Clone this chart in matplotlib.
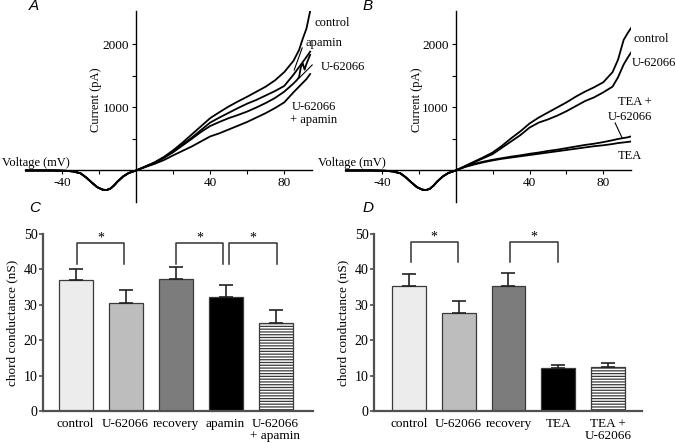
import matplotlib
matplotlib.use('Agg')
import matplotlib.pyplot as plt
import numpy as np

plt.rcParams['font.family'] = ['Liberation Serif', 'DejaVu Serif']
plt.rcParams['axes.unicode_minus'] = False
plt.rcParams['hatch.linewidth'] = 0.9

# ---- I-V traces (voltage mV, current pA) ----
v_neg = [-60, -45, -38, -34, -30, -27, -24, -21, -18, -16, -14, -12, -10, -7, -4, 0]
i_neg = [0, 0, -5, -15, -45, -110, -190, -265, -305, -310, -290, -240, -175, -95, -40, 0]

v_a = [5, 10, 15, 20, 25, 30, 35, 40, 45, 50, 55, 60, 65, 70, 75, 80, 85, 88, 90, 92, 94]
a_control = [65, 130, 215, 320, 440, 570, 700, 830, 925, 1015, 1095, 1170, 1250, 1330, 1430, 1560, 1740, 1910, 2090, 2250, 2530]
a_apamin = [60, 125, 205, 300, 410, 520, 640, 760, 840, 915, 990, 1060, 1120, 1190, 1260, 1340, 1520, 1640, 1720, 1800, 1885]
a_u_apamin = [55, 105, 165, 240, 310, 380, 460, 540, 590, 650, 710, 770, 840, 910, 990, 1080, 1240, 1330, 1390, 1450, 1530]
v_a_u = [5, 10, 15, 20, 25, 30, 35, 40, 45, 50, 55, 60, 65, 70, 75, 80, 85, 87, 88, 89, 90, 91, 92, 94]
a_u62066 = [60, 120, 200, 290, 395, 500, 610, 705, 770, 830, 880, 935, 1000, 1070, 1150, 1250, 1380, 1440, 1480, 1640, 1700, 1600, 1690, 1835]

v_b = [5, 10, 15, 20, 25, 30, 35, 40, 45, 50, 55, 60, 65, 70, 75, 80, 85, 88, 91, 93, 95]
b_control = [70, 140, 210, 285, 390, 510, 620, 745, 840, 920, 1000, 1080, 1170, 1250, 1320, 1400, 1560, 1760, 2070, 2170, 2260]
b_u62066 = [65, 130, 195, 260, 360, 460, 560, 680, 760, 810, 870, 940, 1020, 1100, 1160, 1240, 1330, 1480, 1680, 1780, 1870]
b_tea_u = [60, 105, 140, 170, 195, 220, 240, 265, 285, 310, 330, 355, 380, 405, 425, 450, 480, 500, 515, 525, 540]
b_tea = [55, 95, 130, 160, 185, 205, 225, 245, 265, 285, 305, 325, 345, 365, 385, 400, 420, 435, 445, 452, 460]

# ---- chord conductance bars (nS) ----
c_labels = ['control', 'U-62066', 'recovery', 'apamin', 'U-62066\n+ apamin']
c_means = [37.1, 30.5, 37.4, 32.3, 25.0]
c_sem = [2.9, 3.8, 3.2, 3.2, 3.4]
d_labels = ['control', 'U-62066', 'recovery', 'TEA', 'TEA +\nU-62066']
d_means = [35.3, 27.6, 35.3, 12.2, 12.5]
d_sem = [3.5, 3.6, 3.8, 0.9, 1.1]
bar_colors = ['#ececec', '#bdbdbd', '#7c7c7c', '#000000', '#ffffff']

W, H = 675, 443
fig = plt.figure(figsize=(6.75, 4.43), dpi=100)


def px_axes(x0, y0, x1, y1):
    # pixel box (left, top, right, bottom) -> axes
    return fig.add_axes([x0 / W, 1 - y1 / H, (x1 - x0) / W, (y1 - y0) / H])


def iv_axes(ax):
    ax.set_xlim(-60, 95)
    ax.set_ylim(-500, 2530)
    for s in ['top', 'right']:
        ax.spines[s].set_visible(False)
    ax.spines['left'].set_position(('data', 0))
    ax.spines['bottom'].set_position(('data', 0))
    for s in ['left', 'bottom']:
        ax.spines[s].set_linewidth(1.0)
    ax.set_xticks([-40, -20, 20, 40, 60, 80])
    ax.set_xticklabels(['-40', '', '', '40', '', '80'])
    ax.set_yticks([500, 1000, 1500, 2000])
    ax.set_yticklabels(['', '1000', '', '2000'])
    ax.tick_params(direction='out', length=3, width=0.8, labelsize=9.5, pad=2)
    ax.patch.set_alpha(0)


def trace(ax, v, cur):
    ax.plot(v_neg + v, i_neg + cur, color='black', lw=1.3)


# Panel A
axA = px_axes(25, 11, 312, 202)
iv_axes(axA)
trace(axA, v_a, a_control)
trace(axA, v_a, a_apamin)
trace(axA, v_a_u, a_u62066)
trace(axA, v_a, a_u_apamin)
axA.text(96.5, 2340, 'control', fontsize=9, va='center', clip_on=False)
axA.text(91.5, 2025, 'apamin', fontsize=9, va='center', clip_on=False)
axA.text(100, 1645, 'U-62066', fontsize=9, va='center', clip_on=False)
axA.text(84, 1010, 'U-62066', fontsize=9, va='center', clip_on=False)
axA.text(83, 800, '+ apamin', fontsize=9, va='center', clip_on=False)
axA.plot([89.7, 85.4], [1944, 1595], color='black', lw=0.8, clip_on=False)
axA.plot([95.1, 88.1], [1674, 1468], color='black', lw=0.8, clip_on=False)

# Panel B
axB = px_axes(345, 11, 631, 202)
iv_axes(axB)
for cur in [b_control, b_u62066, b_tea_u, b_tea]:
    trace(axB, v_b, cur)
axB.text(96.2, 2090, 'control', fontsize=9, va='center', clip_on=False)
axB.text(95.4, 1705, 'U-62066', fontsize=9, va='center', clip_on=False)
axB.text(97, 1087, 'TEA +', fontsize=9, va='center', ha='center', clip_on=False)
axB.text(94.6, 849, 'U-62066', fontsize=9, va='center', ha='center', clip_on=False)
axB.text(94.6, 230, 'TEA', fontsize=9, va='center', ha='center', clip_on=False)
axB.plot([86.4, 90.2], [754, 516], color='black', lw=0.8, clip_on=False)

fig.text(2 / W, 1 - 163 / H, 'Voltage (mV)', fontsize=9, va='center', ha='left')
fig.text(318 / W, 1 - 163 / H, 'Voltage (mV)', fontsize=9, va='center', ha='left')
fig.text(96 / W, 1 - 100 / H, 'Current (pA)', fontsize=9, va='center', ha='center', rotation=90)
fig.text(417 / W, 1 - 100 / H, 'Current (pA)', fontsize=9, va='center', ha='center', rotation=90)


def bar_axes(ax, labels, means, sem, brackets, xlim):
    x = np.arange(len(means))
    bars = ax.bar(x, means, width=0.68, color=bar_colors, edgecolor='#3a3a3a', linewidth=0.9, zorder=2)
    bars[-1].set_hatch('------')
    ax.errorbar(x, means, yerr=[np.zeros(len(sem)), sem], fmt='none', ecolor='#222222',
                elinewidth=1.2, capsize=5, capthick=1.2, zorder=3)
    ax.set_xlim(*xlim)
    ax.set_ylim(0, 50)
    for s in ['top', 'right']:
        ax.spines[s].set_visible(False)
    for s in ['left', 'bottom']:
        ax.spines[s].set_linewidth(1.6)
        ax.spines[s].set_color('#505050')
    ax.set_yticks([0, 10, 20, 30, 40, 50])
    ax.tick_params(axis='y', direction='out', length=3, width=1.2, color='#505050', labelsize=10, pad=1)
    ax.set_xticks(x)
    ax.set_xticklabels(labels, fontsize=9.5, linespacing=1.0)
    ax.tick_params(axis='x', length=0, pad=5)
    ax.set_ylabel('chord conductance (nS)', fontsize=9.5, labelpad=4)
    for x0, x1, top, low in brackets:
        ax.plot([x0, x0, x1, x1], [low, top, top, low], color='#333333', lw=1.1, clip_on=False)
        ax.text((x0 + x1) / 2, top - 0.6, '*', ha='center', va='bottom', fontsize=10, clip_on=False)


axC = px_axes(43, 234, 313, 411)
bar_axes(axC, c_labels, c_means, c_sem,
         [(0.03, 0.97, 47.5, 41.5), (2.01, 2.95, 47.5, 41.5), (3.07, 4.03, 47.5, 41.5)],
         (-0.65, 4.75))

axD = px_axes(374, 234, 642, 411)
bar_axes(axD, d_labels, d_means, d_sem,
         [(0.04, 0.98, 47.8, 42.2), (2.03, 2.99, 47.8, 42.2)],
         (-0.70, 4.68))

for lab, (px, py) in zip('ABCD', [(34, 6), (368, 6), (35, 208), (368, 208)]):
    fig.text(px / W, 1 - py / H, lab, fontsize=11, style='italic', family='Liberation Sans',
             ha='center', va='center')

fig.savefig('out.png', dpi=100)
